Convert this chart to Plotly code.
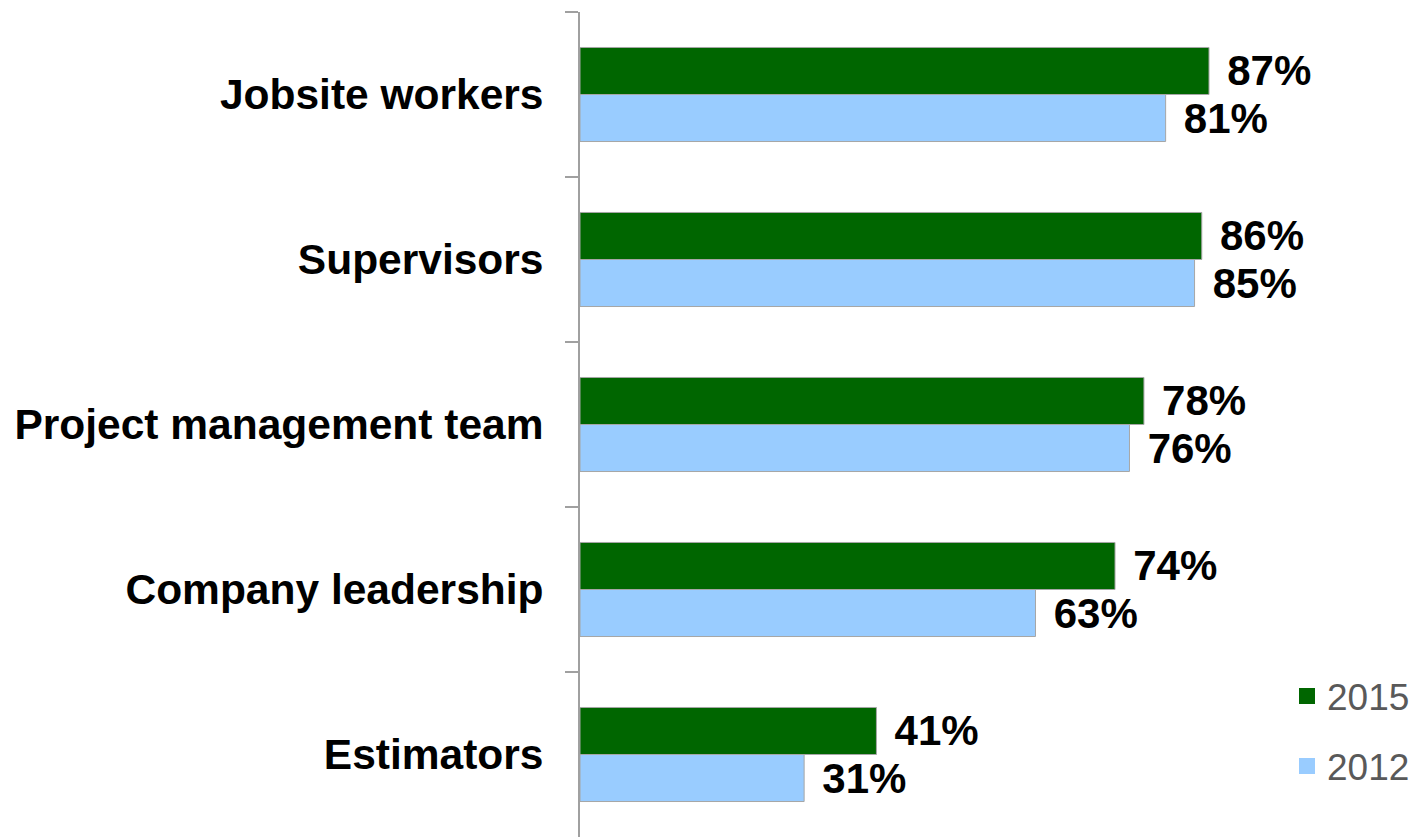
import plotly.graph_objects as go

# Survey groups and the share reported for each year
categories = ["Jobsite workers", "Supervisors", "Project management team",
              "Company leadership", "Estimators"]
values_2015 = [87, 86, 78, 74, 41]
values_2012 = [81, 85, 76, 63, 31]
series_names = ["2015", "2012"]

GREEN = "#006600"
BLUE = "#99CCFF"
OUTLINE = "#A6A6A6"
FONT = "Liberation Sans"

fig = go.Figure()

for name, vals, color in [(series_names[0], values_2015, GREEN),
                          (series_names[1], values_2012, BLUE)]:
    fig.add_trace(go.Bar(
        y=categories, x=vals, name=name, orientation="h",
        marker=dict(color=color, line=dict(color=OUTLINE, width=1)),
        texttemplate="\u00a0\u200a%{x}%", textposition="outside",
        textfont=dict(family=FONT, size=42, color="black", weight="bold"),
        constraintext="none", cliponaxis=False, showlegend=False,
    ))

# Legend entries with square swatches
for i, (name, color) in enumerate([(series_names[0], GREEN), (series_names[1], BLUE)]):
    fig.add_trace(go.Scatter(
        x=[None], y=[None], mode="markers", name=name,
        marker=dict(symbol="square", size=16, color=color),
        legendgroup=f"g{i}", showlegend=True,
    ))

fig.update_layout(
    width=1415, height=837,
    margin=dict(l=580, r=112, t=12, b=0),
    paper_bgcolor="white", plot_bgcolor="white",
    barmode="group", bargap=0.43, bargroupgap=0,
    font=dict(family=FONT),
    legend=dict(
        x=0.978, xanchor="left", y=0.208, yanchor="top",
        font=dict(family=FONT, size=37, color="#595959"),
        tracegroupgap=19, bgcolor="rgba(0,0,0,0)",
    ),
    xaxis=dict(visible=False, range=[0, 100]),
    yaxis=dict(
        autorange="reversed", type="category",
        showline=True, linecolor="#A0A0A0", linewidth=2,
        ticks="outside", ticklen=13, tickcolor="#A0A0A0", tickwidth=2,
        tickson="boundaries", showgrid=False, zeroline=False,
        tickfont=dict(family=FONT, size=42.5, color="black", weight="bold"),
        ticklabelstandoff=26,
    ),
)

fig.write_html("out.html")
